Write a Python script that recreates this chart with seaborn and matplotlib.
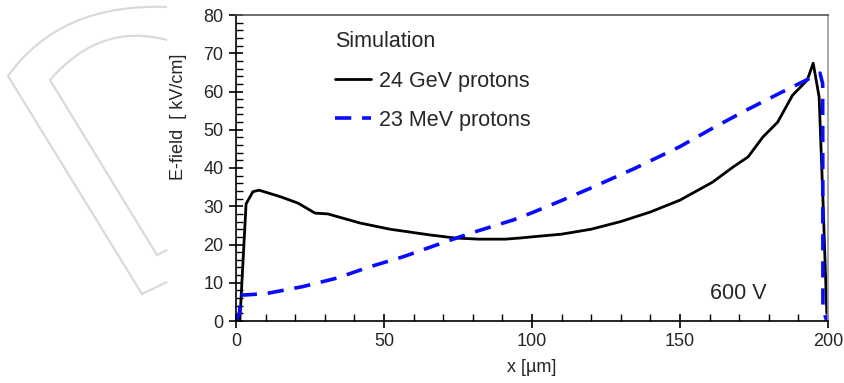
import pandas as pd
import seaborn as sns
import matplotlib.pyplot as plt
from matplotlib.path import Path
from matplotlib.patches import PathPatch
from matplotlib.transforms import IdentityTransform
from matplotlib.ticker import MultipleLocator

# E-field profiles
gev_x = [0, 1.3, 3.4, 5.7, 7.8, 15, 21, 26.7, 31, 42, 52, 65.5, 74, 82, 91, 96,
         100, 110, 120, 130, 140, 150, 161, 168, 173, 178, 183, 188, 193, 195,
         197, 198.3, 199.6]
gev_y = [0, 0, 30.6, 33.8, 34.2, 32.5, 30.8, 28.2, 28, 25.6, 24, 22.5, 21.7, 21.4,
         21.4, 21.7, 22, 22.7, 24, 26, 28.5, 31.6, 36.3, 40.3, 42.9, 48.1, 52,
         59, 63, 67.4, 58.6, 31.6, 2]

mev_x = [0, 1.2, 1.5, 3, 10.4, 22.6, 34, 45.3, 56.5, 67.8, 79, 93.6, 100, 110,
         120, 135, 150, 161, 172.6, 183.8, 194, 197.3, 198.2, 198.3, 199.6]
mev_y = [0, 2, 6.8, 6.8, 7.2, 9, 11.2, 14.2, 16.8, 19.9, 22.9, 26.4, 28.3, 31.5,
         34.8, 40, 45.6, 50.4, 55.2, 59.6, 63.5, 64.8, 62, 3, 0]

series_labels = ["24 GeV protons", "23 MeV protons"]
legend_title = "Simulation"
voltage_note = "600 V"

df_gev = pd.DataFrame({"x": gev_x, "E": gev_y})
df_mev = pd.DataFrame({"x": mev_x, "E": mev_y})

sns.set_style("white")
plt.rcParams["font.family"] = ["Liberation Sans", "DejaVu Sans"]

fig = plt.figure(figsize=(8.45, 3.83), dpi=100)
ax = fig.add_axes([236 / 845, 1 - 321 / 383, 592 / 845, 306 / 383])

# faint watermark arcs on the left (figure pixels, y from top)
def px(x, y):
    return (x, 383 - y)

outer = Path([px(167, 7), px(60, 3), px(8, 76), px(142, 294), px(167, 282)],
             [Path.MOVETO, Path.CURVE3, Path.CURVE3, Path.LINETO, Path.LINETO])
inner = Path([px(167, 40), px(100, 22), px(50, 80), px(157, 255), px(167, 250)],
             [Path.MOVETO, Path.CURVE3, Path.CURVE3, Path.LINETO, Path.LINETO])
for p in (outer, inner):
    fig.patches.append(PathPatch(p, fill=False, edgecolor="#dadada", lw=1.6,
                                 transform=IdentityTransform()))

sns.lineplot(data=df_gev, x="x", y="E", ax=ax, color="black", lw=2.0,
             sort=False, estimator=None, label=series_labels[0])
sns.lineplot(data=df_mev, x="x", y="E", ax=ax, color="#0a0aff", lw=2.6,
             sort=False, estimator=None, linestyle=(0, (4.5, 3)),
             label=series_labels[1])

ax.set_xlim(0, 200)
ax.set_ylim(0, 80)
ax.xaxis.set_major_locator(MultipleLocator(50))
ax.xaxis.set_minor_locator(MultipleLocator(10))
ax.yaxis.set_major_locator(MultipleLocator(10))
ax.yaxis.set_minor_locator(MultipleLocator(2))
ax.tick_params(which="major", direction="inout", length=10, width=1.2,
               color="black", labelsize=13, pad=4)
ax.tick_params(which="minor", direction="in", length=5, width=1.0, color="black")
ax.tick_params(axis="both", which="both", bottom=True, left=True)

for side in ("left", "bottom"):
    ax.spines[side].set_color("black")
    ax.spines[side].set_linewidth(1.2)
ax.spines["top"].set_color("#555555")
ax.spines["right"].set_color("#999999")
ax.spines["top"].set_linewidth(1.2)
ax.spines["right"].set_linewidth(1.2)

ax.set_xlabel("x [µm]", fontsize=13, labelpad=6)
ax.set_ylabel("E-field  [ kV/cm]", fontsize=13)
ax.yaxis.set_label_coords(-0.082, 0.667)

ax.text(169.6, 7.3, voltage_note, fontsize=15.5, ha="center", va="center")

leg = ax.legend(title=legend_title, loc="upper left",
                bbox_to_anchor=(0.152, 0.975), frameon=False, fontsize=15.5,
                title_fontsize=15.5, alignment="left", handlelength=1.7,
                handletextpad=0.35, labelspacing=0.85, borderaxespad=0)

fig.savefig("out.png", dpi=100)
